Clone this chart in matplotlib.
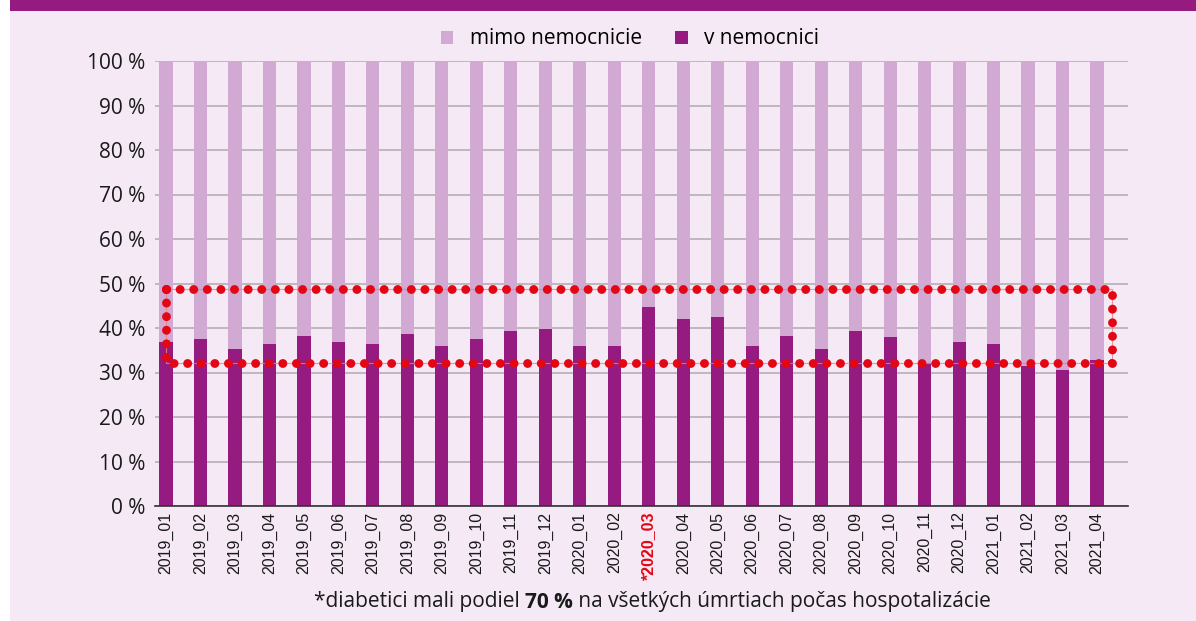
import matplotlib.pyplot as plt
import matplotlib.patches as mpatches
import numpy as np

plt.rcParams['font.family'] = ['Open Sans', 'DejaVu Sans']

months = ["2019_01", "2019_02", "2019_03", "2019_04", "2019_05", "2019_06", "2019_07",
          "2019_08", "2019_09", "2019_10", "2019_11", "2019_12", "2020_01", "2020_02",
          "*2020_03", "2020_04", "2020_05", "2020_06", "2020_07", "2020_08", "2020_09",
          "2020_10", "2020_11", "2020_12", "2021_01", "2021_02", "2021_03", "2021_04"]
v_nemocnici = [36.9, 37.5, 35.3, 36.4, 38.2, 36.9, 36.4, 38.7, 36.0, 37.5, 39.3, 39.8,
               36.0, 36.0, 44.7, 42.0, 42.5, 36.0, 38.2, 35.3, 39.3, 38.0, 32.1, 36.9,
               36.4, 31.5, 30.6, 32.8]
mimo_nemocnicie = [100 - v for v in v_nemocnici]
box_low, box_high = 32.1, 48.8

dark = "#951B81"
light = "#D1A9D3"
bg = "#F4E9F5"

fig = plt.figure(figsize=(11.96, 6.21), dpi=100)
fig.patch.set_facecolor("white")
fig.patches.append(mpatches.Rectangle((10 / 1196, 0), 1, 1, transform=fig.transFigure,
                                      facecolor=bg, edgecolor="none", zorder=-10))
fig.patches.append(mpatches.Rectangle((10 / 1196, 1 - 11 / 621), 1, 11 / 621,
                                      transform=fig.transFigure, facecolor=dark,
                                      edgecolor="none", zorder=-9))

ax = fig.add_axes([155 / 1196, 1 - 506 / 621, (1128 - 155) / 1196, (506 - 61) / 621])
ax.set_facecolor("none")

x = np.arange(len(months))
ax.bar(x, v_nemocnici, width=0.38, color=dark, label="v nemocnici", zorder=2)
ax.bar(x, mimo_nemocnicie, width=0.38, bottom=v_nemocnici, color=light,
       label="mimo nemocnicie", zorder=2)

# dotted red box
bx = [0, len(months) - 0.55, len(months) - 0.55, 0, 0]
by = [box_high, box_high, box_low, box_low, box_high]
ax.plot(bx, by, color="#F08080", lw=0.8, zorder=3, alpha=0.8)
ax.plot(bx, by, color="#E30613", lw=6.4, linestyle=(0, (0.01, 1.52)),
        dash_capstyle="round", zorder=4)

ax.set_xlim(-0.32, len(months) - 0.1)
ax.set_ylim(0, 100)
ax.set_yticks(np.arange(0, 101, 10))
ax.set_yticklabels([f"{v} %" for v in range(0, 101, 10)], fontsize=15, color="#1a1a1a")
ax.yaxis.grid(True, color="#B5B0B5", lw=1.2, zorder=0)
ax.set_axisbelow(True)
ax.tick_params(axis="y", length=0, pad=7)
ax.tick_params(axis="x", length=0, pad=4)
ax.set_xticks(x)
ax.set_xticklabels(months, rotation=90, fontsize=11.5, family=["Liberation Sans"], color="#1a1a1a")
for lab in ax.get_xticklabels():
    if lab.get_text().startswith("*"):
        lab.set_color("#E30613")
        lab.set_fontweight("bold")
for s in ["left", "right", "top"]:
    ax.spines[s].set_visible(False)
ax.spines["bottom"].set_color("#333333")
ax.spines["bottom"].set_linewidth(1.2)
ax.spines["bottom"].set_zorder(5)

h, l = ax.get_legend_handles_labels()
fig.legend(h[::-1], l[::-1], loc="center", bbox_to_anchor=(630 / 1196, 1 - 39 / 621),
           ncol=2, frameon=False, fontsize=15, handlelength=0.6, handleheight=0.6,
           columnspacing=1.6, handletextpad=0.8)

# footnote with bold part
parts = [("*diabetici mali podiel ", "normal"), ("70 %", "bold"),
         (" na všetkých úmrtiach počas hospotalizácie", "normal")]
renderer = fig.canvas.get_renderer()
texts = []
widths = []
for s, w in parts:
    t = fig.text(0, 1 - 602 / 621, s, fontsize=15, fontweight=w, color="#1a1a1a", va="center")
    texts.append(t)
    widths.append(t.get_window_extent(renderer).width)
start = 652 - sum(widths) / 2
for t, w in zip(texts, widths):
    t.set_x(start / 1196)
    start += w

fig.savefig("out.png", dpi=100, facecolor=fig.get_facecolor())
